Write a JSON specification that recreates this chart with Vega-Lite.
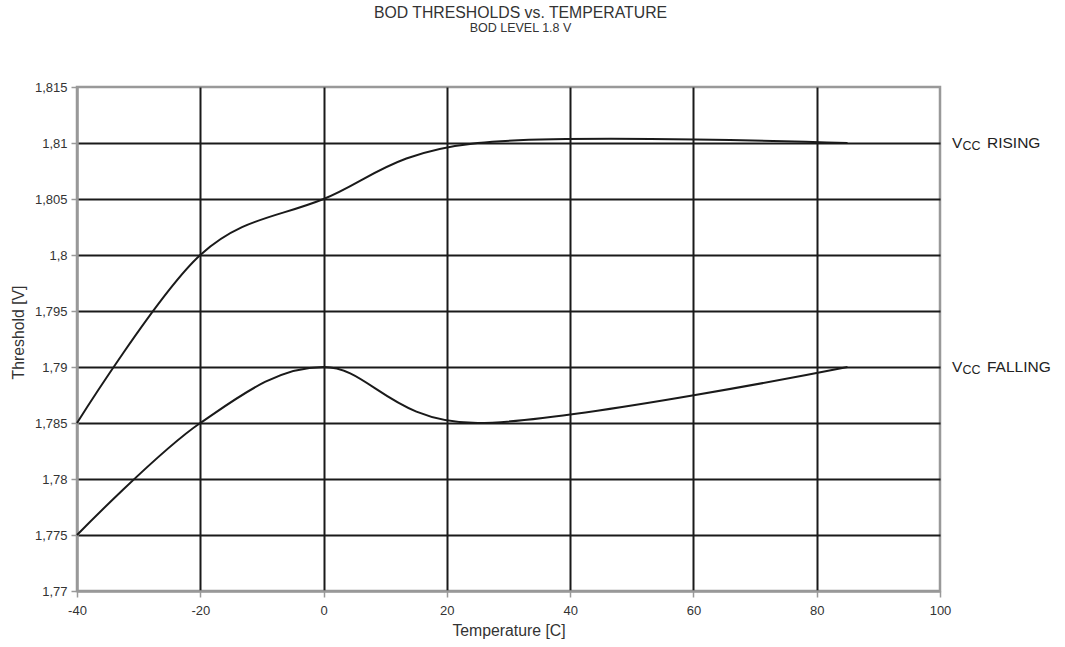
{
  "$schema": "https://vega.github.io/schema/vega-lite/v6.json",
  "width": 863,
  "height": 504,
  "autosize": {"type": "none"},
  "padding": {"left": 77, "top": 87, "right": 125, "bottom": 56},
  "background": "white",
  "config": {
    "font": "Liberation Sans",
    "view": {"stroke": "#999999", "strokeWidth": 2.5},
    "axis": {
      "domainColor": "#999999",
      "domainWidth": 2.5,
      "tickColor": "#999999",
      "tickWidth": 1.5,
      "tickSize": 6,
      "gridColor": "#1a1a1a",
      "gridWidth": 2,
      "labelFont": "Liberation Sans",
      "labelFontSize": 13,
      "labelColor": "#333333",
      "labelFlush": false,
      "titleFont": "Liberation Sans",
      "titleFontSize": 15.8,
      "titleFontWeight": "normal",
      "titleColor": "#333333"
    }
  },
  "title": {
    "text": "BOD THRESHOLDS vs. TEMPERATURE",
    "subtitle": "BOD LEVEL 1.8 V",
    "font": "Liberation Sans",
    "fontSize": 15.8,
    "fontWeight": "normal",
    "color": "#333333",
    "subtitleFont": "Liberation Sans",
    "subtitleFontSize": 12.5,
    "subtitleColor": "#333333",
    "subtitlePadding": 1,
    "anchor": "middle",
    "dx": 12,
    "offset": 45
  },
  "datasets": {
    "curves": [
      {"series": "RISING", "temp": -40, "v": 1.785},
      {"series": "RISING", "temp": -20, "v": 1.8},
      {"series": "RISING", "temp": 0, "v": 1.805},
      {"series": "RISING", "temp": 25, "v": 1.81},
      {"series": "RISING", "temp": 85, "v": 1.81},
      {"series": "FALLING", "temp": -40, "v": 1.775},
      {"series": "FALLING", "temp": -20, "v": 1.785},
      {"series": "FALLING", "temp": 0, "v": 1.79},
      {"series": "FALLING", "temp": 25, "v": 1.785},
      {"series": "FALLING", "temp": 85, "v": 1.79}
    ],
    "labels": [
      {"series": "RISING", "v": 1.81},
      {"series": "FALLING", "v": 1.79}
    ]
  },
  "layer": [
    {
      "data": {"name": "curves"},
      "mark": {"type": "line", "interpolate": "cardinal", "tension": 0, "color": "#1a1a1a", "strokeWidth": 2},
      "encoding": {
        "x": {
          "field": "temp", "type": "quantitative",
          "scale": {"domain": [-40, 100], "nice": false},
          "axis": {
            "values": [-40, -20, 0, 20, 40, 60, 80, 100],
            "labelExpr": "toString(datum.value)",
            "title": "Temperature [C]",
            "labelPadding": 7,
            "titlePadding": 6,
            "gridOpacity": {"condition": {"test": "datum.value == -40 || datum.value == 100", "value": 0}, "value": 1}
          }
        },
        "y": {
          "field": "v", "type": "quantitative",
          "scale": {"domain": [1.77, 1.815], "nice": false, "zero": false},
          "axis": {
            "values": [1.77, 1.775, 1.78, 1.785, 1.79, 1.795, 1.8, 1.805, 1.81, 1.815],
            "labelExpr": "replace(format(datum.value, '~g'), '.', ',')",
            "title": "Threshold [V]",
            "titleY": 245,
            "labelPadding": 4,
            "titlePadding": 8,
            "gridOpacity": {"condition": {"test": "datum.value < 1.7701 || datum.value > 1.8149", "value": 0}, "value": 1}
          }
        },
        "detail": {"field": "series"}
      }
    },
    {
      "data": {"name": "labels"},
      "mark": {"type": "text", "align": "left", "baseline": "middle", "dx": 12, "fontSize": 15.5, "font": "Liberation Sans", "color": "#222222"},
      "encoding": {"x": {"datum": 100}, "y": {"field": "v", "type": "quantitative"}, "text": {"value": "V"}}
    },
    {
      "data": {"name": "labels"},
      "mark": {"type": "text", "align": "left", "baseline": "middle", "dx": 22.5, "dy": 3, "fontSize": 12.5, "font": "Liberation Sans", "color": "#222222"},
      "encoding": {"x": {"datum": 100}, "y": {"field": "v", "type": "quantitative"}, "text": {"value": "CC"}}
    },
    {
      "data": {"name": "labels"},
      "mark": {"type": "text", "align": "left", "baseline": "middle", "dx": 47, "fontSize": 15.5, "font": "Liberation Sans", "color": "#222222"},
      "encoding": {"x": {"datum": 100}, "y": {"field": "v", "type": "quantitative"}, "text": {"field": "series"}}
    }
  ]
}
